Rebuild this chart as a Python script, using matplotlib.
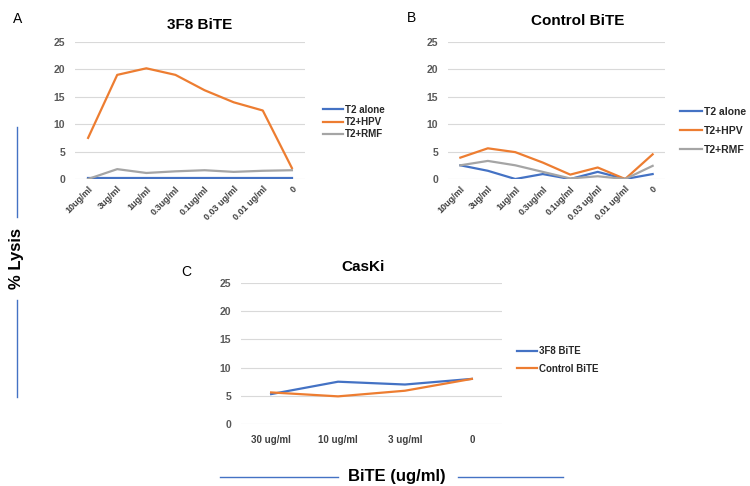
import matplotlib
matplotlib.use("Agg")
import matplotlib.pyplot as plt
from matplotlib.lines import Line2D

plt.rcParams["font.family"] = ["Liberation Sans", "DejaVu Sans"]

# --- data ---
doses_ab = ["10ug/ml", "3ug/ml", "1ug/ml", "0.3ug/ml", "0.1ug/ml", "0.03 ug/ml", "0.01 ug/ml", "0"]
series_ab = ["T2 alone", "T2+HPV", "T2+RMF"]

a_t2_alone = [0.2, 0.2, 0.2, 0.2, 0.2, 0.2, 0.2, 0.2]
a_t2_hpv = [7.5, 19.0, 20.2, 19.0, 16.2, 14.0, 12.5, 2.0]
a_t2_rmf = [0.0, 1.8, 1.1, 1.4, 1.6, 1.3, 1.5, 1.6]

b_t2_alone = [2.5, 1.5, 0.0, 0.9, 0.0, 1.3, 0.0, 0.9]
b_t2_hpv = [3.9, 5.6, 4.9, 3.0, 0.8, 2.1, 0.0, 4.5]
b_t2_rmf = [2.5, 3.3, 2.5, 1.3, 0.1, 0.5, 0.0, 2.4]

doses_c = ["30 ug/ml", "10 ug/ml", "3 ug/ml", "0"]
series_c = ["3F8 BiTE", "Control BiTE"]
c_3f8 = [5.3, 7.5, 7.0, 8.0]
c_control = [5.6, 4.9, 5.9, 8.0]

yticks = [0, 5, 10, 15, 20, 25]

BLUE = "#4472C4"
ORANGE = "#ED7D31"
GRAY = "#A5A5A5"
TICK = "#595959"

W, H = 750, 486
fig = plt.figure(figsize=(7.5, 4.86), dpi=100)


def px_axes(x0, x1, ytop, ybot):
    return fig.add_axes([x0 / W, 1 - ybot / H, (x1 - x0) / W, (ybot - ytop) / H])


def style(ax, labels, rot, xfs):
    ax.set_ylim(0, 25)
    ax.set_yticks(yticks)
    ax.set_xlim(-0.45, len(labels) - 0.55)
    ax.set_xticks(range(len(labels)))
    for s in ax.spines.values():
        s.set_visible(False)
    ax.grid(axis="y", color="#D9D9D9", lw=0.8)
    ax.set_axisbelow(True)
    ax.tick_params(length=0, colors=TICK, pad=7)
    ax.tick_params(axis="y", labelsize=7.5)
    for t in ax.get_yticklabels():
        t.set_fontweight("bold")
    if rot:
        ax.set_xticklabels(labels, rotation=45, ha="right", rotation_mode="anchor",
                           fontsize=xfs, fontweight="bold", color="#404040")
        ax.tick_params(axis="x", pad=4)
    else:
        ax.set_xticklabels(labels, fontsize=xfs, fontweight="bold", color="#404040")
        ax.tick_params(axis="x", pad=8)


# Panel A
axA = px_axes(75, 305, 42, 179)
x8 = range(len(doses_ab))
axA.plot(x8, a_t2_alone, color=BLUE, lw=1.6)
axA.plot(x8, a_t2_hpv, color=ORANGE, lw=1.6)
axA.plot(x8, a_t2_rmf, color=GRAY, lw=1.6)
style(axA, doses_ab, True, 6.5)

# Panel B
axB = px_axes(448, 665, 42, 179)
axB.plot(x8, b_t2_alone, color=BLUE, lw=1.6)
axB.plot(x8, b_t2_hpv, color=ORANGE, lw=1.6)
axB.plot(x8, b_t2_rmf, color=GRAY, lw=1.6)
style(axB, doses_ab, True, 6.5)

# Panel C
axC = px_axes(241, 502, 283, 424)
x4 = range(len(doses_c))
axC.plot(x4, c_3f8, color=BLUE, lw=1.6)
axC.plot(x4, c_control, color=ORANGE, lw=1.6)
style(axC, doses_c, False, 7)

# titles and panel letters
fig.text(200 / W, 1 - 25 / H, "3F8 BiTE", ha="center", va="center", fontsize=11, fontweight="bold")
fig.text(578 / W, 1 - 21 / H, "Control BiTE", ha="center", va="center", fontsize=11, fontweight="bold")
fig.text(363 / W, 1 - 267 / H, "CasKi", ha="center", va="center", fontsize=11, fontweight="bold")
fig.text(18 / W, 1 - 19 / H, "A", ha="center", va="center", fontsize=10)
fig.text(412 / W, 1 - 18 / H, "B", ha="center", va="center", fontsize=10)
fig.text(186 / W, 1 - 272 / H, "C", ha="center", va="center", fontsize=10)


# legends
def legend(ax, names, colors, x, y, fs, spacing):
    handles = [Line2D([], [], color=c, lw=1.6) for c in colors]
    lg = ax.legend(handles, names, loc="center left", bbox_to_anchor=(x / W, 1 - y / H),
                   bbox_transform=fig.transFigure, frameon=False, borderpad=0,
                   borderaxespad=0, handlelength=2.1, handletextpad=0.2,
                   labelspacing=spacing, prop={"size": fs, "weight": "bold"})
    for t in lg.get_texts():
        t.set_color("#262626")


legend(axA, series_ab, [BLUE, ORANGE, GRAY], 323, 122, 7, 0.25)
legend(axB, series_ab, [BLUE, ORANGE, GRAY], 680, 131, 7.5, 0.85)
legend(axC, series_c, [BLUE, ORANGE], 517, 360, 7, 0.75)

# shared axis labels with decorative lines
fig.text(17 / W, 1 - 258 / H, "% Lysis", rotation=90, ha="center", va="center",
         fontsize=12, fontweight="bold")
fig.add_artist(Line2D([17 / W, 17 / W], [1 - 127 / H, 1 - 217 / H], color=BLUE, lw=1))
fig.add_artist(Line2D([17 / W, 17 / W], [1 - 300 / H, 1 - 397 / H], color=BLUE, lw=1))

fig.text(397 / W, 1 - 476 / H, "BiTE (ug/ml)", ha="center", va="center",
         fontsize=12, fontweight="bold")
fig.add_artist(Line2D([220 / W, 338 / W], [1 - 477 / H, 1 - 477 / H], color=BLUE, lw=1))
fig.add_artist(Line2D([458 / W, 563 / W], [1 - 477 / H, 1 - 477 / H], color=BLUE, lw=1))

fig.savefig("out.png", dpi=100)
